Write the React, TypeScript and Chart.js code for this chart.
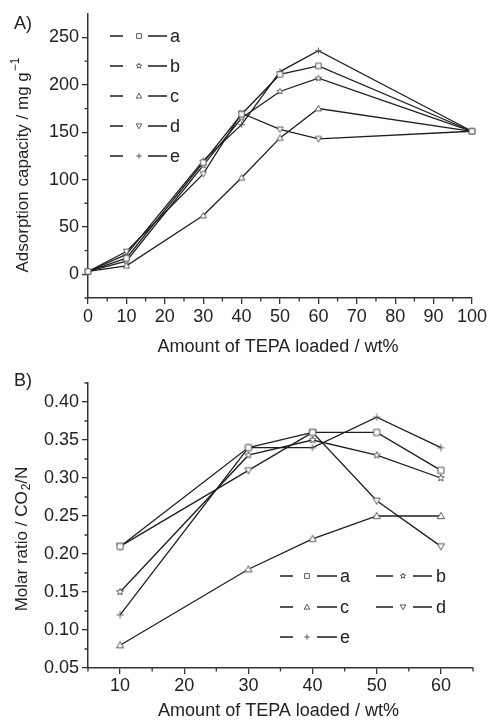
import React, { useEffect, useRef } from 'react';
import { Chart, registerables } from 'chart.js';

Chart.register(...registerables);

const FONT = "'Liberation Sans', Arial, sans-serif";
const TXT = '#222';
const AXIS = '#333';
const LINE = '#1e1e1e';
const MARK = '#5a5a5a';

// ---------- Data: panel A ----------
const seriesNames = ['a', 'b', 'c', 'd', 'e'];
const markerKinds = ['square', 'star', 'triangle', 'invtriangle', 'plus'];

const loadingA = [0, 10, 30, 40, 50, 60, 100];
const capacityA_a = [3, 17, 118, 169, 211, 220, 151];
const capacityA_b = [3, 14, 115, 165, 193, 207, 151];
const capacityA_c = [3, 9, 62, 102, 144, 175, 151];
const capacityA_d = [3, 24, 106, 170, 153, 143, 151];
const capacityA_e = [3, 21, 120, 158, 214, 236, 151];
const xTicksA = [0, 10, 20, 30, 40, 50, 60, 70, 80, 90, 100];
const xMinorA = [5, 15, 25, 35, 45, 55, 65, 75, 85, 95];
const yTicksA = [0, 50, 100, 150, 200, 250];
const yMinorA = [-25, 25, 75, 125, 175, 225];

// ---------- Data: panel B ----------
const loadingB = [10, 30, 40, 50, 60];
const ratioB_a = [0.21, 0.34, 0.36, 0.36, 0.31];
const ratioB_b = [0.15, 0.33, 0.35, 0.33, 0.30];
const ratioB_c = [0.08, 0.18, 0.22, 0.25, 0.25];
const ratioB_d = [0.21, 0.31, 0.36, 0.27, 0.21];
const ratioB_e = [0.12, 0.34, 0.34, 0.38, 0.34];
const xTicksB = [10, 20, 30, 40, 50, 60];
const xMinorB = [5, 15, 25, 35, 45, 55, 65];
const yTicksB = [0.05, 0.1, 0.15, 0.2, 0.25, 0.3, 0.35, 0.4];
const yMinorB = [0.075, 0.125, 0.175, 0.225, 0.275, 0.325, 0.375, 0.425];

function makeMarker(kind: string, r: number): HTMLCanvasElement {
  const s = Math.ceil(r * 2 + 4);
  const c = document.createElement('canvas');
  c.width = s;
  c.height = s;
  const g = c.getContext('2d')!;
  const m = s / 2;
  g.lineWidth = 1;
  g.strokeStyle = MARK;
  g.fillStyle = '#fff';
  g.beginPath();
  if (kind === 'square') {
    const h = r * 0.85;
    g.rect(m - h, m - h, 2 * h, 2 * h);
  } else if (kind === 'triangle') {
    g.moveTo(m, m - r);
    g.lineTo(m + r, m + r * 0.75);
    g.lineTo(m - r, m + r * 0.75);
    g.closePath();
  } else if (kind === 'invtriangle') {
    g.moveTo(m, m + r);
    g.lineTo(m + r, m - r * 0.75);
    g.lineTo(m - r, m - r * 0.75);
    g.closePath();
  } else if (kind === 'star') {
    for (let i = 0; i < 10; i++) {
      const a = -Math.PI / 2 + (i * Math.PI) / 5;
      const rr = i % 2 ? r * 0.45 : r;
      const px = m + rr * Math.cos(a);
      const py = m + rr * Math.sin(a);
      if (i === 0) g.moveTo(px, py);
      else g.lineTo(px, py);
    }
    g.closePath();
  } else if (kind === 'plus') {
    g.moveTo(m - r, m);
    g.lineTo(m + r, m);
    g.moveTo(m, m - r);
    g.lineTo(m, m + r);
  }
  if (kind !== 'plus') g.fill();
  g.stroke();
  return c;
}

type LegendItem = { x1a: number; x1b: number; mx: number; x2a: number; x2b: number; lx: number; y: number };

function makePlugin(opts: {
  panel: string;
  panelY: number;
  xTitle: string;
  xTitleY: number;
  yTitleMain: string;
  yTitleScript: string;
  scriptKind: 'sup' | 'sub';
  yTitleTail: string;
  yTitleX: number;
  yTitleY: number;
  yTitleSize: number;
  xMinor: number[];
  yMinor: number[];
  legend: LegendItem[];
  legendMarkers: HTMLCanvasElement[];
}) {
  return {
    id: 'custom' + opts.panel,
    afterDraw(chart: any) {
      const ctx = chart.ctx as CanvasRenderingContext2D;
      const xs = chart.scales.x;
      const ys = chart.scales.y;
      const area = chart.chartArea;
      ctx.save();
      // minor ticks
      ctx.strokeStyle = AXIS;
      ctx.lineWidth = 1.3;
      ctx.beginPath();
      for (const v of opts.xMinor) {
        const px = xs.getPixelForValue(v);
        ctx.moveTo(px, area.bottom);
        ctx.lineTo(px, area.bottom + 3.5);
      }
      for (const v of opts.yMinor) {
        const py = ys.getPixelForValue(v);
        ctx.moveTo(area.left, py);
        ctx.lineTo(area.left - 3.5, py);
      }
      ctx.stroke();

      ctx.fillStyle = TXT;
      // panel label
      ctx.font = `18px ${FONT}`;
      ctx.textAlign = 'left';
      ctx.textBaseline = 'alphabetic';
      ctx.fillText(opts.panel, 14, opts.panelY);

      // x title
      ctx.textAlign = 'center';
      ctx.textBaseline = 'middle';
      ctx.fillText(opts.xTitle, (area.left + area.right) / 2 - 2, opts.xTitleY);

      // y title (rotated)
      const fs = opts.yTitleSize;
      const ss = Math.round(fs * 0.68);
      ctx.save();
      ctx.translate(opts.yTitleX, opts.yTitleY);
      ctx.rotate(-Math.PI / 2);
      ctx.textAlign = 'left';
      ctx.textBaseline = 'middle';
      ctx.font = `${fs}px ${FONT}`;
      const w1 = ctx.measureText(opts.yTitleMain).width;
      const w3 = ctx.measureText(opts.yTitleTail).width;
      ctx.font = `${ss}px ${FONT}`;
      const w2 = ctx.measureText(opts.yTitleScript).width;
      const total = w1 + w2 + w3 + 1;
      let x0 = -total / 2;
      ctx.font = `${fs}px ${FONT}`;
      ctx.fillText(opts.yTitleMain, x0, 0);
      x0 += w1 + 1;
      ctx.font = `${ss}px ${FONT}`;
      ctx.fillText(opts.yTitleScript, x0, opts.scriptKind === 'sup' ? -7 : 5);
      x0 += w2;
      ctx.font = `${fs}px ${FONT}`;
      ctx.fillText(opts.yTitleTail, x0, 0);
      ctx.restore();

      // legend
      ctx.strokeStyle = LINE;
      ctx.lineWidth = 1.3;
      ctx.textAlign = 'left';
      ctx.textBaseline = 'middle';
      ctx.font = `18px ${FONT}`;
      opts.legend.forEach((it, i) => {
        ctx.beginPath();
        ctx.moveTo(it.x1a, it.y);
        ctx.lineTo(it.x1b, it.y);
        ctx.moveTo(it.x2a, it.y);
        ctx.lineTo(it.x2b, it.y);
        ctx.stroke();
        const mk = opts.legendMarkers[i];
        ctx.drawImage(mk, it.mx - mk.width / 2, it.y - mk.height / 2);
        ctx.fillText(seriesNames[i], it.lx, it.y + 1);
      });
      ctx.restore();
    },
  };
}

function baseScale(min: number, max: number, ticks: number[], fmt: (v: number) => string, isX: boolean, fitSize: number, pad: number) {
  return {
    type: 'linear',
    min,
    max,
    afterBuildTicks: (s: any) => {
      s.ticks = ticks.map((v) => ({ value: v }));
    },
    afterFit: (s: any) => {
      if (isX) s.height = fitSize;
      else s.width = fitSize;
    },
    grid: { display: true, drawOnChartArea: false, drawTicks: true, tickLength: 6, color: AXIS, lineWidth: 1.3 },
    border: { display: true, color: AXIS, width: 1.5 },
    ticks: {
      color: TXT,
      font: { family: FONT, size: 18 },
      padding: pad,
      maxRotation: 0,
      autoSkip: false,
      callback: (v: any) => fmt(Number(v)),
    },
  };
}

function buildDatasets(xs: number[], ys: number[][], r: number) {
  return ys.map((vals, i) => ({
    label: seriesNames[i],
    data: xs.map((x, j) => ({ x, y: vals[j] })),
    borderColor: LINE,
    borderWidth: 1.3,
    tension: 0,
    pointStyle: makeMarker(markerKinds[i], r),
    pointRadius: 4,
    pointHoverRadius: 4,
    clip: false,
    fill: false,
  }));
}

function configA(): any {
  const legendMarkers = markerKinds.map((k) => makeMarker(k, 2.8));
  const rows = [36, 66, 96, 126, 156];
  const legend = rows.map((y) => ({ x1a: 110, x1b: 123, mx: 139, x2a: 148, x2b: 167, lx: 170, y }));
  return {
    type: 'line',
    data: {
      datasets: buildDatasets(loadingA, [capacityA_a, capacityA_b, capacityA_c, capacityA_d, capacityA_e], 3.2),
    },
    options: {
      animation: false,
      responsive: false,
      devicePixelRatio: 1,
      layout: { padding: { top: 13, right: 16, bottom: 0, left: 0 } },
      plugins: { legend: { display: false }, tooltip: { enabled: false } },
      scales: {
        x: baseScale(0, 100, xTicksA, (v) => String(v), true, 62, 2),
        y: baseScale(-25, 275, yTicksA, (v) => String(v), false, 88, 3),
      },
    },
    plugins: [
      makePlugin({
        panel: 'A)',
        panelY: 29,
        xTitle: 'Amount of TEPA loaded / wt%',
        xTitleY: 347,
        yTitleMain: 'Adsorption capacity / mg g',
        yTitleScript: '\u22121',
        scriptKind: 'sup',
        yTitleTail: '',
        yTitleX: 23,
        yTitleY: 165,
        yTitleSize: 17,
        xMinor: xMinorA,
        yMinor: yMinorA,
        legend,
        legendMarkers,
      }),
    ],
  };
}

function configB(): any {
  const legendMarkers = markerKinds.map((k) => makeMarker(k, 2.8));
  const col1 = { x1a: 280, x1b: 293, mx: 307, x2a: 317, x2b: 337, lx: 340 };
  const col2 = { x1a: 376, x1b: 393, mx: 403, x2a: 413, x2b: 432, lx: 436 };
  const legend = [
    { ...col1, y: 216 },
    { ...col2, y: 216 },
    { ...col1, y: 247 },
    { ...col2, y: 247 },
    { ...col1, y: 277 },
  ];
  return {
    type: 'line',
    data: {
      datasets: buildDatasets(loadingB, [ratioB_a, ratioB_b, ratioB_c, ratioB_d, ratioB_e], 3.6),
    },
    options: {
      animation: false,
      responsive: false,
      devicePixelRatio: 1,
      layout: { padding: { top: 23, right: 16, bottom: 0, left: 0 } },
      plugins: { legend: { display: false }, tooltip: { enabled: false } },
      scales: {
        x: baseScale(5, 65, xTicksB, (v) => String(v), true, 52, 1),
        y: baseScale(0.05, 0.425, yTicksB, (v) => v.toFixed(2), false, 88, 3),
      },
    },
    plugins: [
      makePlugin({
        panel: 'B)',
        panelY: 26,
        xTitle: 'Amount of TEPA loaded / wt%',
        xTitleY: 351,
        yTitleMain: 'Molar ratio / CO',
        yTitleScript: '2',
        scriptKind: 'sub',
        yTitleTail: '/N',
        yTitleX: 22,
        yTitleY: 179,
        yTitleSize: 17,
        xMinor: xMinorB,
        yMinor: yMinorB,
        legend,
        legendMarkers,
      }),
    ],
  };
}

function Panel({ make }: { make: () => any }) {
  const ref = useRef<HTMLCanvasElement | null>(null);
  useEffect(() => {
    if (!ref.current) return;
    const chart = new Chart(ref.current, make());
    return () => chart.destroy();
  }, [make]);
  return <canvas ref={ref} width={489} height={360} style={{ display: 'block', width: 489, height: 360 }} />;
}

export default function App() {
  return (
    <div style={{ position: 'absolute', left: 0, top: 0, width: 489, height: 720, background: '#fff' }}>
      <Panel make={configA} />
      <Panel make={configB} />
    </div>
  );
}
